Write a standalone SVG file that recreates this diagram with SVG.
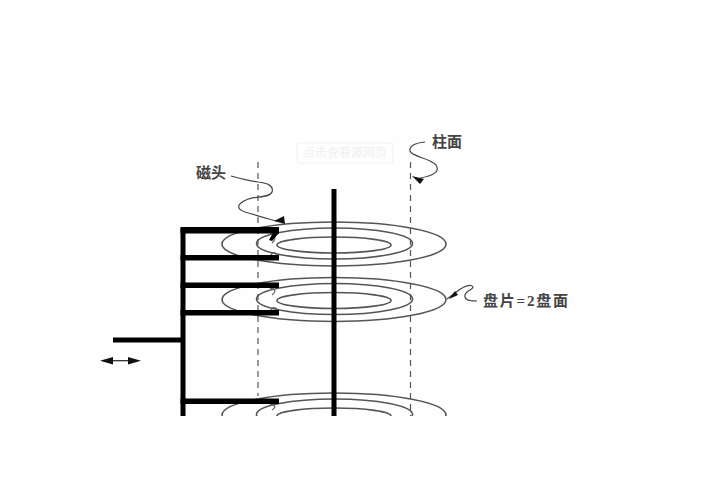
<svg xmlns="http://www.w3.org/2000/svg" width="715" height="499" viewBox="0 0 715 499">
<style>
.disk{fill:none;stroke:#555;stroke-width:1.6}
.dash{stroke:#555;stroke-width:1.2;stroke-dasharray:6 5;fill:none}
.lead{fill:none;stroke:#444;stroke-width:1.2}
.lbl{font-family:"Liberation Serif","Noto Sans CJK SC",serif;font-size:15px;font-weight:700;fill:#444}
.head{fill:none;stroke:#666;stroke-width:1.3}
</style>
<defs>
<clipPath id="c"><rect x="0" y="0" width="715" height="416"/></clipPath>
<g id="platter">
<ellipse class="disk" cx="334" cy="244" rx="112" ry="22"/>
<ellipse class="disk" cx="334.5" cy="243.5" rx="78" ry="15.5"/>
<ellipse class="disk" cx="334" cy="245" rx="57" ry="8"/>
</g>
</defs>
<rect width="715" height="499" fill="#fff"/>
<rect x="102" y="134" width="490" height="282" fill="#fefefe"/>
<g id="watermark">
<rect x="297" y="143" width="96" height="20" rx="2" fill="none" stroke="#f1f1f1"/>
<text x="345" y="157" text-anchor="middle" font-family="'Noto Sans CJK SC',sans-serif" font-size="12" fill="#f0f0f0">点击查看源网页</text>
</g>
<g clip-path="url(#c)">
<g id="disk-1"><use href="#platter"/></g>
<g id="disk-2"><use href="#platter" y="55.5"/></g>
<g id="disk-3"><use href="#platter" y="171"/></g>
<g id="connectors">
<path class="dash" d="M258 162V396"/>
<path class="dash" d="M410.500 162V416"/>
<path class="lead" d="M231 176C242 179 250 181 258 182C268 183 274 186 272 192C270 198 254 196 246 200C237 204 236 209 245 212C256 215 266 218 276 221"/>
<path d="M274 221L284 216L285 224Z" fill="#111"/>
<path class="lead" d="M425 142C415 143 409 146 410 151C412 157 430 158 436 165C441 172 432 176 420 178"/>
<path d="M412 176L424 179L420 184Z" fill="#111"/>
<path class="lead" d="M447 299L455 293C460 289 466 285 471 285.500C476 287 470 290 467 292C463 296 465 300 470 300.500C472 301 475 301 477 301"/>
<path d="M449 299L455 291L458 295Z" fill="#111"/>
</g>
<g id="spindle"><rect x="331.500" y="189" width="5" height="227" fill="#000"/></g>
<g id="actuator">
<path class="head" d="M270 233C276 235 276 240 272 243M270 257C272 251 276 252 278 256M270 288C276 289 276 292 272 295M270 312C272 306 276 307 278 311M270 404C276 405 276 408 272 410"/>
<rect x="180.500" y="228" width="5" height="188" fill="#000"/>
<rect x="180.500" y="227" width="98.500" height="6.500" fill="#000"/>
<rect x="180.500" y="255" width="98.500" height="5.500" fill="#000"/>
<rect x="180.500" y="282.500" width="98.500" height="5.500" fill="#000"/>
<rect x="180.500" y="310" width="98.500" height="5.500" fill="#000"/>
<rect x="180.500" y="398.500" width="98.500" height="5.500" fill="#000"/>
<rect x="113" y="337.500" width="68" height="5" fill="#000"/>
<path d="M269 240L274 231L279 233L272 241Z" fill="#000"/>
</g>
</g>
<g id="move-arrow">
<path d="M110 360.700H131" stroke="#222" stroke-width="1.200"/>
<path d="M100 360.700L113 357V364.500Z" fill="#111"/>
<path d="M141 360.700L128 357V364.500Z" fill="#111"/>
</g>
<g id="labels">
<text class="lbl" x="196" y="178">磁头</text>
<text class="lbl" x="432" y="147">柱面</text>
<text class="lbl" x="483" y="306" textLength="85" lengthAdjust="spacing">盘片=2盘面</text>
</g>
</svg>
